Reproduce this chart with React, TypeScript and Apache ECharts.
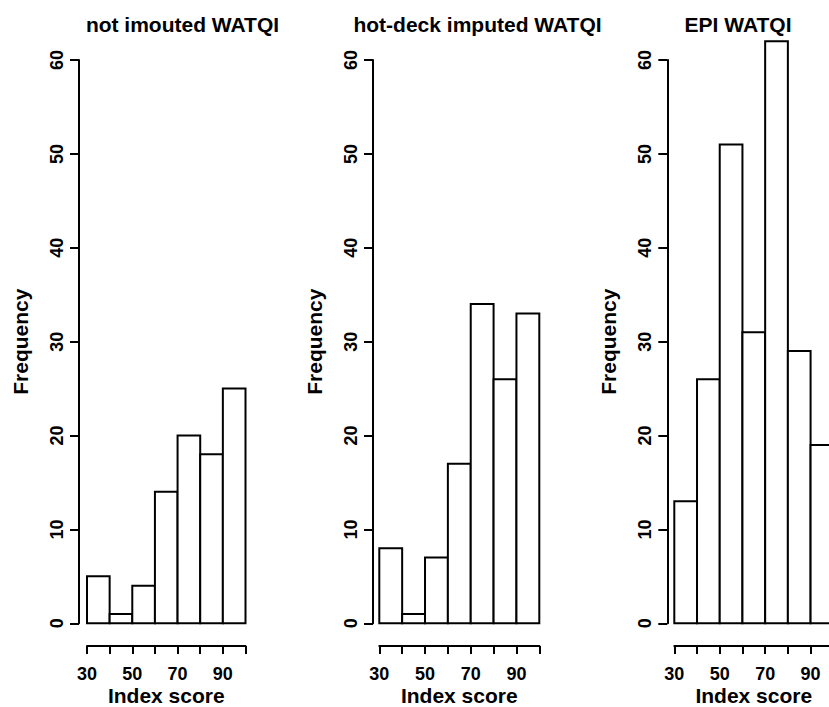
import React, { useEffect, useRef } from "react";
import * as echarts from "echarts";

const binEdges = [30, 40, 50, 60, 70, 80, 90, 100];
const notImputed = [5, 1, 4, 14, 20, 18, 25];
const hotDeck = [8, 1, 7, 17, 34, 26, 33];
const epi = [13, 26, 51, 31, 62, 29, 19];
const panelTitles = ["not imouted WATQI", "hot-deck imputed WATQI", "EPI WATQI"];
const yTicks = { min: 0, max: 60, interval: 10 };
const xTicks = { min: 30, max: 100, interval: 10 };
const xLabelShown = [30, 50, 70, 90];

const FONT = '"Liberation Sans", Arial, Helvetica, sans-serif';

export default function App() {
  const ref = useRef<HTMLDivElement>(null);
  useEffect(() => {
    document.body.style.margin = "0";
    if (!ref.current) return;
    const chart = echarts.init(ref.current, undefined, { renderer: "svg" });

    const panels = [
      { data: notImputed, left: 87, width: 158.5, yOff: 8, titleX: 182.5 },
      { data: hotDeck, left: 379.3, width: 160, yOff: 6.3, titleX: 477.5 },
      { data: epi, left: 674.3, width: 159, yOff: 7, titleX: 738 },
    ];

    const grids = panels.map((p) => ({
      left: p.left,
      top: 60,
      width: p.width,
      height: 563.3,
      containLabel: false,
      outerBoundsMode: "none",
    }));

    const xAxes = panels.map((_, i) => ({
      type: "value" as const,
      gridIndex: i,
      min: xTicks.min,
      max: xTicks.max,
      interval: xTicks.interval,
      offset: 22.7,
      name: "Index score",
      nameLocation: "middle" as const,
      nameGap: 39,
      nameMoveOverlap: false,
      nameTextStyle: { fontFamily: FONT, fontWeight: "bold", fontSize: 21, color: "#000", lineHeight: 21 },
      axisLine: { show: true, onZero: false, lineStyle: { color: "#000", width: 2 } },
      axisTick: { show: true, length: 8, lineStyle: { color: "#000", width: 2 } },
      axisLabel: {
        margin: 19,
        fontFamily: FONT,
        fontWeight: "bold",
        fontSize: 18,
        color: "#000",
        showMinLabel: true,
        showMaxLabel: true,
        formatter: (v: number) => (xLabelShown.indexOf(v) >= 0 ? String(v) : ""),
      },
      splitLine: { show: false },
    }));

    const yAxes = panels.map((p, i) => ({
      type: "value" as const,
      gridIndex: i,
      min: yTicks.min,
      max: yTicks.max,
      interval: yTicks.interval,
      offset: p.yOff,
      name: "Frequency",
      nameLocation: "middle" as const,
      nameRotate: 90,
      nameGap: 48,
      nameMoveOverlap: false,
      nameTextStyle: { fontFamily: FONT, fontWeight: "bold", fontSize: 21, color: "#000" },
      axisLine: { show: true, onZero: false, lineStyle: { color: "#000", width: 2 } },
      axisTick: { show: true, length: 9, lineStyle: { color: "#000", width: 2 } },
      axisLabel: {
        rotate: 90,
        margin: 13,
        fontFamily: FONT,
        fontWeight: "bold",
        fontSize: 18,
        color: "#000",
      },
      splitLine: { show: false },
    }));

    const series = panels.map((p, i) => ({
      type: "custom" as const,
      xAxisIndex: i,
      yAxisIndex: i,
      clip: false,
      data: p.data.map((v, k) => [binEdges[k], binEdges[k + 1], v]),
      encode: { x: [0, 1], y: 2 },
      renderItem: (_params: any, api: any) => {
        const lo = api.value(0);
        const hi = api.value(1);
        const v = api.value(2);
        const p0 = api.coord([lo, v]);
        const p1 = api.coord([hi, 0]);
        return {
          type: "rect",
          shape: { x: p0[0], y: p0[1], width: p1[0] - p0[0], height: p1[1] - p0[1] },
          style: { fill: "#fff", stroke: "#000", lineWidth: 2 },
        };
      },
    }));

    const graphic = panels.map((p, i) => ({
      type: "text" as const,
      x: p.titleX,
      y: 24,
      style: {
        text: panelTitles[i],
        fontFamily: FONT,
        fontWeight: "bold",
        fontSize: 21,
        fill: "#000",
        textAlign: "center",
        textVerticalAlign: "middle",
      },
    }));

    chart.setOption({
      animation: false,
      backgroundColor: "#fff",
      grid: grids,
      xAxis: xAxes,
      yAxis: yAxes,
      series,
      graphic,
    });
    return () => chart.dispose();
  }, []);
  return <div ref={ref} style={{ width: 829, height: 707 }} />;
}
